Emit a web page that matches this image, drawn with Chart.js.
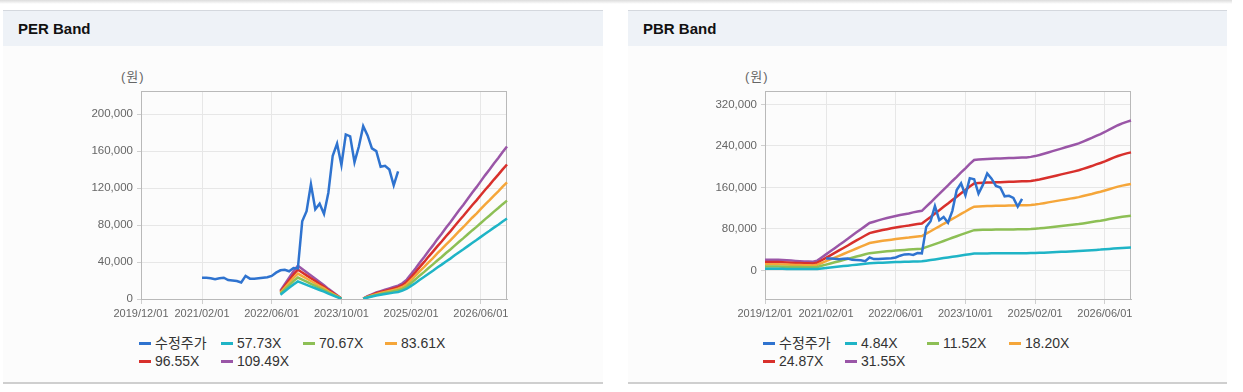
<!DOCTYPE html>
<html>
<head>
<meta charset="utf-8">
<script src="https://cdn.jsdelivr.net/npm/chart.js@4.4.1/dist/chart.umd.min.js"></script>
<style>
body{margin:0;width:1243px;height:392px;background:#fff;position:relative;overflow:hidden;font-family:"Liberation Sans",Arial,"Noto Sans CJK KR",sans-serif}
.shadow{position:absolute;left:0;top:0;width:1232px;height:4px;background:linear-gradient(#dcdcdc,#fff)}
.panel{position:absolute;top:10px;height:374px;background:#fcfcfc;border-top:1px solid #d4d8de;border-bottom:2px solid #cfcfcf;box-sizing:border-box}
.panel .hd{height:35px;background:#eef2f7;font-weight:bold;font-size:15px;line-height:36px;padding-left:15px;color:#111}
.unit{position:absolute;top:69px;font-size:13px;line-height:16px;color:#666;letter-spacing:1px}
.chart{position:absolute;top:80px}
.legend{position:absolute;top:334px;width:340px;font-size:14px;color:#333}
.legend .item{display:inline-block;width:82px;height:18px;line-height:18px;white-space:nowrap;vertical-align:top}
.legend i{display:inline-block;width:12px;height:3px;vertical-align:middle;margin-right:4px;position:relative;top:-1px}
</style>
</head>
<body>
<div class="shadow"></div>
<div class="panel" style="left:3px;width:600px"><div class="hd">PER Band</div></div>
<div class="panel" style="left:628px;width:599px"><div class="hd">PBR Band</div></div>
<div class="unit" style="left:121px">(원)</div>
<div class="unit" style="left:745px">(원)</div>
<canvas id="perChart" class="chart" style="left:60px" width="460" height="250"></canvas>
<canvas id="pbrChart" class="chart" style="left:684px" width="460" height="250"></canvas>
<div id="perLegend" class="legend" style="left:139px"></div>
<div id="pbrLegend" class="legend" style="left:763px"></div>
<script>
// monthly categories 2019/12 .. 2026/12
const months = [];
for (let i = 0; i < 85; i++) {
    const y = 2019 + Math.floor((11 + i) / 12);
    const m = (11 + i) % 12 + 1;
    months.push(y + '/' + String(m).padStart(2, '0') + '/01');
}
const xTickLabels = ['2019/12/01', '2021/02/01', '2022/06/01', '2023/10/01', '2025/02/01', '2026/06/01'];
const perTicks = [0, 40000, 80000, 120000, 160000, 200000];
const pbrTicks = [0, 80000, 160000, 240000, 320000];

const colors = ['#2f73cf', '#1fb4c6', '#8dbf55', '#f5a63a', '#d8302c', '#9a56a7'];
const perNames = ['수정주가', '57.73X', '70.67X', '83.61X', '96.55X', '109.49X'];
const pbrNames = ['수정주가', '4.84X', '11.52X', '18.20X', '24.87X', '31.55X'];

// 수정주가 (adjusted price)
const price = [null,null,null,null,null,null,null,null,null,null,null,null,null,null,
    23000,23000,22500,21500,22500,23000,20500,20000,19500,17800,25000,22000,22000,22500,23000,23500,
    25000,28500,31000,31500,30000,33500,33000,84000,95000,124000,97000,103000,92000,115000,155000,168000,
    145000,178000,176000,148000,165000,187000,177000,163000,160000,143000,144000,140000,123000,138000,
    null,null,null,null,null,null,null,null,null,null,null,null,null,null,null,null,null,null,null,null,null,null,null,null,null];

// PER bands
const per5773 = [null,null,null,null,null,null,null,null,null,null,null,null,null,null,null,null,
    null,null,null,null,null,null,null,null,null,null,null,null,null,null,null,null,
    4700,8400,12100,15800,19000,17100,15300,13400,11600,9700,7900,5800,4000,2100,300,
    null,null,null,null,
    300,1600,2600,3700,4500,5300,6100,6900,7600,9000,11100,14200,17400,20800,24000,27400,30600,
    34000,37200,40600,43700,47200,50600,53800,57200,60600,63800,67200,70600,73800,77200,80400,83800,87000];
const per7067 = [null,null,null,null,null,null,null,null,null,null,null,null,null,null,null,null,
    null,null,null,null,null,null,null,null,null,null,null,null,null,null,null,null,
    5800,10300,14800,19400,23200,21000,18700,16400,14200,11900,9700,7100,4800,2600,300,
    null,null,null,null,
    300,1900,3200,4500,5500,6500,7400,8400,9400,11000,13500,17400,21300,25500,29300,33500,37400,
    41600,45500,49700,53500,57700,61900,65800,70000,74200,78000,82200,86400,90300,94500,98400,102600,106400];
const per8361 = [null,null,null,null,null,null,null,null,null,null,null,null,null,null,null,null,
    null,null,null,null,null,null,null,null,null,null,null,null,null,null,null,null,
    6900,12200,17600,22900,27500,24800,22200,19500,16800,14100,11500,8400,5700,3100,400,
    null,null,null,null,
    400,2300,3800,5300,6500,7600,8800,9900,11100,13000,16000,20600,25200,30200,34800,39700,44300,
    49300,53900,58800,63400,68400,73300,77900,82900,87900,92400,97400,102400,107000,111900,116500,121500,126100];
const per9655 = [null,null,null,null,null,null,null,null,null,null,null,null,null,null,null,null,
    null,null,null,null,null,null,null,null,null,null,null,null,null,null,null,null,
    7900,14100,20300,26500,31800,28700,25600,22500,19400,16300,13200,9700,6600,3500,400,
    null,null,null,null,
    400,2600,4400,6200,7500,8800,10100,11500,12800,15000,18500,23800,29100,34800,40100,45900,51200,
    56900,62200,67900,73200,78900,84700,90000,95700,101400,106700,112500,118200,123500,129200,134500,140200,145500];
const per10949 = [null,null,null,null,null,null,null,null,null,null,null,null,null,null,null,null,
    null,null,null,null,null,null,null,null,null,null,null,null,null,null,null,null,
    9000,16000,23000,30000,36000,32500,29000,25500,22000,18500,15000,11000,7500,4000,500,
    null,null,null,null,
    500,3000,5000,7000,8500,10000,11500,13000,14500,17000,21000,27000,33000,39500,45500,52000,58000,
    64500,70500,77000,83000,89500,96000,102000,108500,115000,121000,127500,134000,140000,146500,152500,159000,165000];

// PBR bands
const pbr484 = [3100,3100,3100,3100,3100,3000,2900,2800,2800,2700,2700,2600,2900,3800,4700,5700,6600,7500,8400,9300,
    10300,11200,12200,13100,14000,14400,14800,15100,15500,15800,16100,16400,16600,16800,17100,17400,17600,18800,20000,21300,
    22600,23900,25100,26400,27600,28900,30100,31400,32600,32700,32800,32900,33000,33000,33000,33100,33200,33200,33300,33400,
    33400,33500,33700,34000,34400,34800,35200,35600,36000,36300,36700,37100,37500,38000,38600,39100,39700,40200,40900,41500,
    42200,42800,43400,43800,44200];
const pbr1152 = [7500,7500,7500,7500,7300,7100,6900,6800,6600,6400,6400,6200,6900,9100,11300,13500,15700,17900,20100,22300,
    24600,26800,29000,31200,33400,34300,35200,36100,36900,37600,38300,39100,39600,40200,40900,41400,42000,44900,47800,50900,
    53800,56900,59900,63000,65900,69000,71900,75000,77700,78100,78300,78500,78700,78800,78800,79000,79200,79200,79400,79600,
    79600,79900,80500,81200,82100,83000,84000,84900,85800,86700,87600,88500,89400,90700,92000,93300,94700,96000,97500,99100,
    100700,102200,103500,104600,105500];
const pbr1820 = [11800,11800,11800,11800,11500,11300,11000,10700,10400,10100,10100,9800,11000,14400,17900,21300,24800,28300,31700,35200,
    38900,42400,45900,49300,52800,54200,55700,57100,58300,59400,60600,61700,62600,63500,64600,65500,66400,71000,75600,80500,
    85100,90000,94600,99500,104100,109100,113700,118600,122900,123500,123800,124100,124300,124600,124600,124900,125200,125200,125500,125800,
    125800,126400,127200,128400,129800,131300,132700,134200,135600,137000,138500,139900,141400,143400,145400,147400,149700,151800,154100,156700,
    159300,161600,163600,165300,166800];
const pbr2487 = [16200,16200,16200,16200,15800,15400,15000,14600,14200,13800,13800,13400,15000,19700,24400,29200,33900,38600,43300,48100,
    53200,57900,62600,67400,72100,74100,76000,78000,79600,81200,82700,84300,85500,86700,88300,89400,90600,96900,103200,109900,
    116200,122900,129200,135900,142200,148900,155200,161900,167800,168600,169000,169400,169800,170200,170200,170600,171000,171000,171400,171800,
    171800,172600,173800,175300,177300,179300,181200,183200,185200,187200,189100,191100,193100,195800,198600,201300,204500,207200,210400,213900,
    217500,220600,223400,225800,227700];
const pbr3155 = [20500,20500,20500,20500,20000,19500,19000,18500,18000,17500,17500,17000,19000,25000,31000,37000,43000,49000,55000,61000,
    67500,73500,79500,85500,91500,94000,96500,99000,101000,103000,105000,107000,108500,110000,112000,113500,115000,123000,131000,139500,
    147500,156000,164000,172500,180500,189000,197000,205500,213000,214000,214500,215000,215500,216000,216000,216500,217000,217000,217500,218000,
    218000,219000,220500,222500,225000,227500,230000,232500,235000,237500,240000,242500,245000,248500,252000,255500,259500,263000,267000,271500,
    276000,280000,283500,286500,289000];

const framePlugin = {
    id: 'frame',
    beforeDatasetsDraw(chart) {
        const a = chart.chartArea, c = chart.ctx;
        c.save();
        c.strokeStyle = '#b9b9b9';
        c.lineWidth = 1;
        c.strokeRect(Math.round(a.left) + 0.5, Math.round(a.top) + 0.5, Math.round(a.right - a.left) - 1, Math.round(a.bottom - a.top));
        c.restore();
    }
};

function makeChart(id, names, series, yMin, yMax, yTicks) {
    return new Chart(document.getElementById(id), {
        type: 'line',
        data: {
            labels: months,
            datasets: series.map((d, i) => ({
                label: names[i],
                data: d,
                borderColor: colors[i],
                backgroundColor: colors[i],
                borderWidth: 2.5,
                pointRadius: 0,
                tension: 0,
                spanGaps: false
            }))
        },
        options: {
            responsive: false,
            animation: false,
            layout: { padding: { left: 0, right: 13, top: 11, bottom: 0 } },
            plugins: { legend: { display: false }, tooltip: { enabled: false } },
            scales: {
                x: {
                    grid: { color: '#e7e7e7', tickLength: 5, tickColor: '#cfcfcf' },
                    border: { color: '#b9b9b9' },
                    ticks: { autoSkip: false, maxRotation: 0, minRotation: 0, color: '#666', padding: 3,
                        font: { size: 11, family: '"Liberation Sans", Arial, sans-serif' } },
                    afterBuildTicks: s => { s.ticks = xTickLabels.map(l => ({ value: months.indexOf(l) })); },
                    afterFit: s => { s.height = 31; }
                },
                y: {
                    min: yMin,
                    max: yMax,
                    grid: { color: '#e7e7e7', tickLength: 4, tickColor: '#cfcfcf' },
                    border: { color: '#b9b9b9' },
                    ticks: { color: '#666', padding: 4,
                        font: { size: 11.5, family: '"Liberation Sans", Arial, sans-serif' },
                        callback: v => String(v).replace(/\B(?=(\d{3})+(?!\d))/g, ',') },
                    afterBuildTicks: s => { s.ticks = yTicks.map(v => ({ value: v })); },
                    afterFit: s => { s.width = 81; }
                }
            }
        },
        plugins: [framePlugin]
    });
}

makeChart('perChart', perNames, [price, per5773, per7067, per8361, per9655, per10949], 0, 225000, perTicks);
makeChart('pbrChart', pbrNames, [price, pbr484, pbr1152, pbr1820, pbr2487, pbr3155], -55000, 346000, pbrTicks);

function makeLegend(id, names) {
    const el = document.getElementById(id);
    names.forEach((n, i) => {
        const item = document.createElement('span');
        item.className = 'item';
        item.innerHTML = '<i style="background:' + colors[i] + '"></i>' + n;
        el.appendChild(item);
    });
}
makeLegend('perLegend', perNames);
makeLegend('pbrLegend', pbrNames);
</script>
</body>
</html>
